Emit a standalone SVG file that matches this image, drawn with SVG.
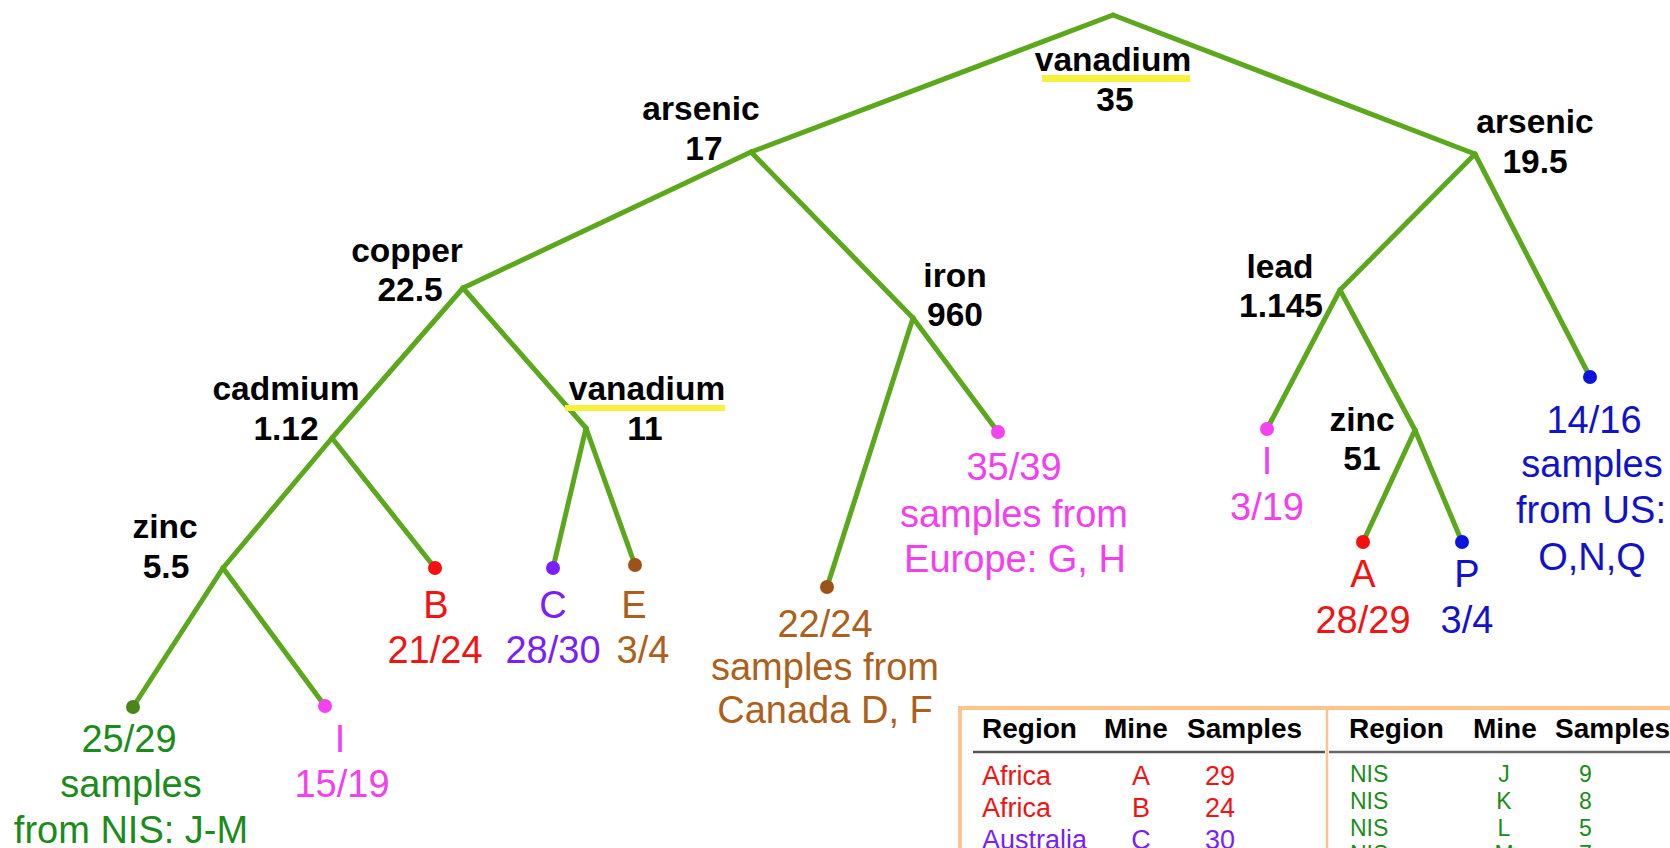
<svg xmlns="http://www.w3.org/2000/svg" width="1670" height="848" viewBox="0 0 1670 848">
<style>
.b{font-family:"Liberation Sans",Arial,sans-serif;font-weight:bold;font-size:33.5px;fill:#000;text-anchor:middle}
.l{font-family:"Liberation Sans",Arial,sans-serif;font-size:38px;text-anchor:middle}
.e{stroke:#5ca81c;stroke-width:5;stroke-linecap:round;fill:none}
.hl{fill:#f7f03c}
.green{fill:#1b8c1b}.pink{fill:#f23ff0}.red{fill:#f01414}.purple{fill:#7a1ff8}.brown{fill:#ad5f1c}.blue{fill:#1212c8}
.th{font-family:"Liberation Sans",Arial,sans-serif;font-weight:bold;font-size:28px;fill:#000}
.tl{font-family:"Liberation Sans",Arial,sans-serif;font-size:27px}
.tr{font-family:"Liberation Sans",Arial,sans-serif;font-size:23px}
</style>
<rect width="1670" height="848" fill="#fff"/>
<g id="connectors">
<line class="e" x1="1113" y1="15" x2="751" y2="152"/>
<line class="e" x1="1113" y1="15" x2="1475" y2="154"/>
<line class="e" x1="751" y1="152" x2="463" y2="288"/>
<line class="e" x1="751" y1="152" x2="913" y2="318"/>
<line class="e" x1="463" y1="288" x2="332" y2="438"/>
<line class="e" x1="463" y1="288" x2="586" y2="428"/>
<line class="e" x1="332" y1="438" x2="223" y2="568"/>
<line class="e" x1="332" y1="438" x2="435" y2="568"/>
<line class="e" x1="223" y1="568" x2="133" y2="707"/>
<line class="e" x1="223" y1="568" x2="325" y2="706"/>
<line class="e" x1="586" y1="428" x2="553" y2="568"/>
<line class="e" x1="586" y1="428" x2="635" y2="565"/>
<line class="e" x1="913" y1="318" x2="827" y2="587"/>
<line class="e" x1="913" y1="318" x2="998" y2="432"/>
<line class="e" x1="1475" y1="154" x2="1340" y2="290"/>
<line class="e" x1="1475" y1="154" x2="1590" y2="377"/>
<line class="e" x1="1340" y1="290" x2="1267" y2="429"/>
<line class="e" x1="1340" y1="290" x2="1415" y2="430"/>
<line class="e" x1="1415" y1="430" x2="1363" y2="542"/>
<line class="e" x1="1415" y1="430" x2="1462" y2="542"/>
</g>
<g id="n-vanadium35">
<rect class="hl" x="1042" y="75" width="148" height="7"/>
<text class="b" x="1113" y="71">vanadium</text>
<text class="b" x="1115" y="111">35</text>
</g>
<g id="n-arsenic17">
<text class="b" x="701" y="120">arsenic</text>
<text class="b" x="704" y="160">17</text>
</g>
<g id="n-arsenic195">
<text class="b" x="1535" y="133">arsenic</text>
<text class="b" x="1535" y="173">19.5</text>
</g>
<g id="n-copper">
<text class="b" x="407" y="262">copper</text>
<text class="b" x="410" y="301">22.5</text>
</g>
<g id="n-iron">
<text class="b" x="955" y="287">iron</text>
<text class="b" x="955" y="326">960</text>
</g>
<g id="n-lead">
<text class="b" x="1280" y="278">lead</text>
<text class="b" x="1281" y="317">1.145</text>
</g>
<g id="n-cadmium">
<text class="b" x="286" y="400">cadmium</text>
<text class="b" x="286" y="440">1.12</text>
</g>
<g id="n-vanadium11">
<rect class="hl" x="565" y="405" width="160" height="6"/>
<text class="b" x="647" y="400">vanadium</text>
<text class="b" x="645" y="440">11</text>
</g>
<g id="n-zinc55">
<text class="b" x="165" y="538">zinc</text>
<text class="b" x="166" y="578">5.5</text>
</g>
<g id="n-zinc51">
<text class="b" x="1362" y="431">zinc</text>
<text class="b" x="1362" y="470">51</text>
</g>
<g id="leaf-nis">
<circle cx="133" cy="707" r="7" fill="#4a851c"/>
<text class="l green" x="129" y="752">25/29</text>
<text class="l green" x="131" y="797">samples</text>
<text class="l green" x="131" y="843">from NIS: J-M</text>
</g>
<g id="leaf-i1">
<circle cx="325" cy="706" r="7" fill="#f542f0"/>
<text class="l pink" x="340" y="752">I</text>
<text class="l pink" x="342" y="797">15/19</text>
</g>
<g id="leaf-b">
<circle cx="435" cy="568" r="7" fill="#f50f0f"/>
<text class="l red" x="436" y="618">B</text>
<text class="l red" x="435" y="663">21/24</text>
</g>
<g id="leaf-c">
<circle cx="553" cy="568" r="7" fill="#7a1ff8"/>
<text class="l purple" x="553" y="618">C</text>
<text class="l purple" x="553" y="663">28/30</text>
</g>
<g id="leaf-e">
<circle cx="635" cy="565" r="7" fill="#9c5218"/>
<text class="l brown" x="634" y="618">E</text>
<text class="l brown" x="643" y="663">3/4</text>
</g>
<g id="leaf-canada">
<circle cx="827" cy="587" r="7" fill="#9c5218"/>
<text class="l brown" x="825" y="637">22/24</text>
<text class="l brown" x="825" y="680">samples from</text>
<text class="l brown" x="825" y="723">Canada D, F</text>
</g>
<g id="leaf-europe">
<circle cx="998" cy="432" r="7" fill="#f542f0"/>
<text class="l pink" x="1014" y="480">35/39</text>
<text class="l pink" x="1014" y="527">samples from</text>
<text class="l pink" x="1015" y="572">Europe: G, H</text>
</g>
<g id="leaf-i2">
<circle cx="1267" cy="429" r="7" fill="#f542f0"/>
<text class="l pink" x="1267" y="474">I</text>
<text class="l pink" x="1267" y="520">3/19</text>
</g>
<g id="leaf-a">
<circle cx="1363" cy="542" r="7" fill="#f50f0f"/>
<text class="l red" x="1363" y="587">A</text>
<text class="l red" x="1363" y="633">28/29</text>
</g>
<g id="leaf-p">
<circle cx="1462" cy="542" r="7" fill="#0a14dc"/>
<text class="l blue" x="1467" y="587">P</text>
<text class="l blue" x="1467" y="633">3/4</text>
</g>
<g id="leaf-us">
<circle cx="1590" cy="377" r="7" fill="#0a14dc"/>
<text class="l blue" x="1594" y="433">14/16</text>
<text class="l blue" x="1592" y="477">samples</text>
<text class="l blue" x="1591" y="523">from US:</text>
<text class="l blue" x="1592" y="570">O,N,Q</text>
</g>
<g id="table">
<rect x="960" y="708" width="800" height="200" fill="#fff" stroke="#fcc38f" stroke-width="4"/>
<line x1="1327" y1="710" x2="1327" y2="848" stroke="#fcc38f" stroke-width="2.5"/>
<line x1="973" y1="752" x2="1325" y2="752" stroke="#555" stroke-width="2.5"/>
<line x1="1329" y1="752" x2="1670" y2="752" stroke="#666" stroke-width="2.5"/>
<text class="th" x="982" y="738">Region</text>
<text class="th" x="1104" y="738">Mine</text>
<text class="th" x="1187" y="738">Samples</text>
<text class="th" x="1349" y="738">Region</text>
<text class="th" x="1473" y="738">Mine</text>
<text class="th" x="1555" y="738">Samples</text>
<g class="tl" fill="#f01414">
<text x="982" y="785">Africa</text><text x="1141" y="785" text-anchor="middle">A</text><text x="1205" y="785">29</text>
<text x="982" y="817">Africa</text><text x="1141" y="817" text-anchor="middle">B</text><text x="1205" y="817">24</text>
</g>
<g class="tl" fill="#7a1ff8">
<text x="982" y="849">Australia</text><text x="1141" y="849" text-anchor="middle">C</text><text x="1205" y="849">30</text>
</g>
<g class="tr" fill="#1b8c1b">
<text x="1350" y="782">NIS</text><text x="1504" y="782" text-anchor="middle">J</text><text x="1579" y="782">9</text>
<text x="1350" y="809">NIS</text><text x="1504" y="809" text-anchor="middle">K</text><text x="1579" y="809">8</text>
<text x="1350" y="836">NIS</text><text x="1504" y="836" text-anchor="middle">L</text><text x="1579" y="836">5</text>
<text x="1350" y="862">NIS</text><text x="1504" y="862" text-anchor="middle">M</text><text x="1579" y="862">7</text>
</g>
</g>
</svg>
